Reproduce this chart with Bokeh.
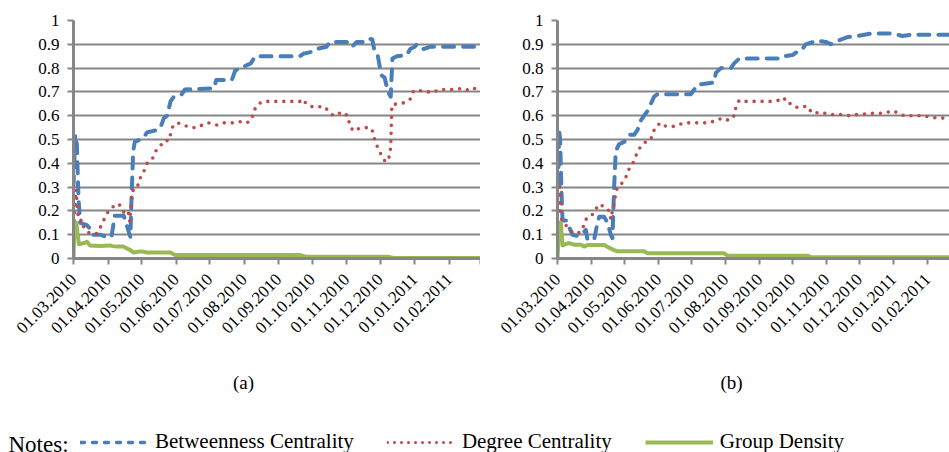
import math
from bokeh.plotting import figure
from bokeh.layouts import row, column
from bokeh.models import Range1d, FixedTicker, Legend, LegendItem, Label
from bokeh.embed import file_html
from bokeh.resources import INLINE

# ---------------- data ----------------
# x = days since 01.03.2010
month_days = [0, 31, 61, 92, 122, 153, 184, 214, 245, 275, 306, 337, 365]
month_labels = ["01.03.2010", "01.04.2010", "01.05.2010", "01.06.2010", "01.07.2010",
                "01.08.2010", "01.09.2010", "01.10.2010", "01.11.2010", "01.12.2010",
                "01.01.2011", "01.02.2011", ""]
y_ticks = [0, 0.1, 0.2, 0.3, 0.4, 0.5, 0.6, 0.7, 0.8, 0.9, 1]
y_labels = ["0", "0.1", "0.2", "0.3", "0.4", "0.5", "0.6", "0.7", "0.8", "0.9", "1"]

series_names = ["Betweenness Centrality", "Degree Centrality", "Group Density"]
panel_titles = ["(a)", "(b)"]

# panel (a)
a_betweenness = [(0, 0.30), (1.5, 0.52), (3, 0.48), (4.5, 0.25), (6, 0.15), (12, 0.14), (14, 0.13),
                 (17, 0.10), (24, 0.10), (30, 0.09), (34, 0.09), (37, 0.18), (45, 0.18), (47, 0.15),
                 (51, 0.09), (52, 0.25), (53.5, 0.45), (55, 0.49), (60, 0.50), (63, 0.51), (66, 0.53),
                 (75, 0.54), (78, 0.55), (81, 0.59), (84, 0.60), (87, 0.66), (90, 0.68), (97, 0.69),
                 (100, 0.71), (126, 0.715), (128, 0.75), (142, 0.75), (145, 0.79), (150, 0.80),
                 (159, 0.82), (163, 0.85), (203, 0.85), (206, 0.86), (215, 0.87), (218, 0.88),
                 (227, 0.89), (230, 0.91), (245, 0.91), (248, 0.89), (251, 0.895), (254, 0.91),
                 (260, 0.91), (264, 0.925), (268, 0.92), (270, 0.87), (273, 0.85), (276, 0.77),
                 (279, 0.76), (282, 0.70), (284.5, 0.68), (286, 0.84), (290, 0.85), (299, 0.855),
                 (302, 0.88), (306, 0.89), (308, 0.90), (314, 0.88), (320, 0.89), (365, 0.89)]
a_degree = [(0.5, 0.16), (2.5, 0.29), (3.5, 0.20), (5, 0.16), (8, 0.16), (9.5, 0.125), (15, 0.105),
            (21, 0.105), (24, 0.13), (27, 0.16), (30, 0.19), (36, 0.22), (40.5, 0.23), (43.5, 0.21),
            (46.5, 0.18), (49.5, 0.19), (50.5, 0.155), (51.5, 0.22), (52.5, 0.26), (54, 0.30),
            (58.5, 0.31), (60, 0.34), (63, 0.365), (66, 0.40), (70.5, 0.415), (73.5, 0.45),
            (77.5, 0.47), (81, 0.495), (85.5, 0.495), (87.5, 0.53), (89.5, 0.56), (93.5, 0.57),
            (99, 0.56), (106, 0.55), (111, 0.55), (115, 0.56), (121, 0.57), (129, 0.56), (135, 0.57),
            (144, 0.57), (150, 0.575), (155.5, 0.57), (160, 0.585), (161.5, 0.62), (166, 0.65),
            (170.5, 0.66), (203, 0.66), (205, 0.67), (209, 0.65), (212, 0.64), (217, 0.635),
            (224, 0.64), (229, 0.62), (233, 0.60), (238, 0.61), (242, 0.615), (246.5, 0.595),
            (247.5, 0.56), (251, 0.535), (255.5, 0.545), (263, 0.55), (267.5, 0.545), (269.5, 0.51),
            (271.5, 0.48), (273.5, 0.46), (276.5, 0.43), (280, 0.405), (283.5, 0.43), (284.5, 0.47),
            (285.5, 0.645), (290, 0.65), (297.5, 0.655), (302, 0.67), (305, 0.705), (311, 0.705),
            (318, 0.70), (324, 0.70), (327, 0.71), (333, 0.71), (341, 0.71), (350, 0.715),
            (355.5, 0.705), (360, 0.715), (365, 0.715)]
a_density = [(0, 0.0), (0.8, 0.15), (2.5, 0.15), (4.8, 0.06), (9.3, 0.065), (12.2, 0.07),
             (14.6, 0.055), (24.2, 0.053), (33, 0.055), (35, 0.052), (39, 0.05), (45, 0.05),
             (46.6, 0.045), (51, 0.035), (54, 0.025), (60, 0.03), (63, 0.028), (66, 0.025),
             (87, 0.025), (91, 0.015), (203, 0.015), (209, 0.007), (282.6, 0.007), (287, 0.002),
             (365, 0.002)]

# panel (b)
b_betweenness = [(0.5, 0.30), (1.5, 0.54), (2.4, 0.50), (3.5, 0.30), (4.6, 0.16), (7.6, 0.16),
                 (9.7, 0.14), (13.7, 0.10), (18.2, 0.095), (22.8, 0.105), (25.8, 0.12), (27.3, 0.08),
                 (33.4, 0.08), (36.4, 0.15), (38, 0.175), (42.5, 0.175), (45.5, 0.15), (48.6, 0.10),
                 (50, 0.085), (51.6, 0.30), (53, 0.45), (56, 0.48), (60.7, 0.49), (65.3, 0.52),
                 (69.8, 0.52), (72.9, 0.54), (75.9, 0.58), (78.9, 0.60), (82, 0.62), (85, 0.65),
                 (88, 0.68), (91, 0.69), (121.4, 0.69), (124.5, 0.71), (127.5, 0.73), (142.7, 0.74),
                 (144.2, 0.78), (148.8, 0.80), (157.9, 0.80), (160.9, 0.82), (165.5, 0.84),
                 (203.4, 0.84), (206.4, 0.85), (214, 0.855), (218.6, 0.87), (223, 0.88), (226, 0.90),
                 (236.8, 0.915), (244.4, 0.91), (249, 0.90), (258, 0.92), (264, 0.93), (273, 0.935),
                 (285, 0.945), (294.5, 0.945), (303.6, 0.945), (309.7, 0.94), (314, 0.935),
                 (321.8, 0.94), (357.3, 0.94)]
b_degree = [(1.8, 0.20), (2.1, 0.30), (3, 0.20), (3.9, 0.16), (7.6, 0.14), (12.1, 0.115),
            (18.2, 0.105), (22.8, 0.12), (24.3, 0.15), (27.3, 0.175), (31.9, 0.185), (34.9, 0.20),
            (36.4, 0.225), (42.5, 0.22), (47, 0.20), (48.6, 0.165), (50, 0.20), (51.6, 0.235),
            (53, 0.27), (54.6, 0.30), (57.7, 0.31), (62.2, 0.34), (63.8, 0.365), (69.8, 0.41),
            (72.9, 0.45), (77.4, 0.48), (80.4, 0.49), (85, 0.50), (86.5, 0.525), (89.6, 0.555),
            (94.1, 0.57), (98.7, 0.555), (106.3, 0.555), (112.3, 0.565), (116.9, 0.57),
            (138.1, 0.57), (144.2, 0.58), (150.3, 0.59), (156.3, 0.58), (160.9, 0.60),
            (162.4, 0.635), (165.5, 0.665), (171.5, 0.66), (194.3, 0.66), (201.9, 0.665),
            (206.4, 0.675), (208, 0.655), (212.5, 0.65), (217, 0.635), (223, 0.64), (229.2, 0.635),
            (230.7, 0.615), (233.8, 0.61), (239.8, 0.615), (247.4, 0.605), (258, 0.605),
            (265.6, 0.60), (273.2, 0.605), (286.9, 0.61), (294.5, 0.61), (306.6, 0.62),
            (311.2, 0.605), (317.2, 0.60), (332.4, 0.60), (338.5, 0.595), (346, 0.59), (357.3, 0.59)]
b_density = [(0, 0.0), (1.5, 0.15), (3, 0.15), (4.6, 0.055), (7.6, 0.06), (9.7, 0.065),
             (15.2, 0.058), (21.3, 0.058), (24.3, 0.05), (27.3, 0.057), (42.5, 0.057), (47, 0.045),
             (51.6, 0.035), (54.6, 0.03), (78.9, 0.03), (82, 0.022), (151.8, 0.022),
             (154.8, 0.012), (227.7, 0.012), (230.7, 0.005), (357.3, 0.005)]

# ---------------- styles ----------------
BLUE = "#4A7EBB"
RED = "#BE4B48"
GREEN = "#98B954"
GRID = "#868686"
FONT = "'Liberation Serif', 'Times New Roman', serif"


def style_series(p, data, kind):
    xs = [d for d, v in data]
    ys = [v for d, v in data]
    if kind == 0:
        return p.line(xs, ys, line_color=BLUE, line_width=4, line_dash="11 9",
                      line_cap="round", line_join="round")
    if kind == 1:
        return p.line(xs, ys, line_color=RED, line_width=3.6, line_dash="0 8",
                      line_cap="round", line_join="round")
    return p.line(xs, ys, line_color=GREEN, line_width=4, line_join="round")


def make_panel(width, height, bl, br, bt, bb, x_end, series):
    p = figure(width=width, height=height, x_range=Range1d(0, x_end), y_range=Range1d(0, 1),
               output_backend="svg", toolbar_location=None,
               min_border_left=bl, min_border_right=br, min_border_top=bt, min_border_bottom=bb)
    p.outline_line_color = None
    p.background_fill_color = "white"
    p.xgrid.grid_line_color = None
    p.ygrid.grid_line_color = GRID
    p.ygrid.grid_line_width = 2
    p.yaxis.ticker = FixedTicker(ticks=y_ticks)
    p.ygrid.ticker = FixedTicker(ticks=y_ticks)
    p.yaxis.major_label_overrides = {t: l for t, l in zip(y_ticks, y_labels)}
    p.xaxis.ticker = FixedTicker(ticks=month_days)
    p.xaxis.major_label_overrides = {t: l for t, l in zip(month_days, month_labels)}
    p.xaxis.major_label_orientation = math.pi / 4
    for ax in (p.xaxis, p.yaxis):
        ax.axis_line_color = GRID
        ax.axis_line_width = 3
        ax.major_tick_line_color = GRID
        ax.major_tick_line_width = 2
        ax.major_tick_out = 6
        ax.major_tick_in = 0
        ax.minor_tick_line_color = None
        ax.major_label_text_font = FONT
        ax.major_label_text_font_size = "17px"
        ax.major_label_text_color = "black"
    p.yaxis.major_label_standoff = 8
    p.xaxis.major_label_standoff = 12
    for k, data in enumerate(series):
        style_series(p, data, k)
    return p


pa = make_panel(480, 360, 73, 0, 20, 102, 365, [a_betweenness, a_degree, a_density])
pb = make_panel(469, 360, 77, 0, 20, 97, 357, [b_betweenness, b_degree, b_density])

# ---------------- captions and legend ----------------
pc = figure(width=949, height=92, x_range=Range1d(0, 949), y_range=Range1d(0, 92),
            output_backend="svg", toolbar_location=None, min_border=0,
            x_axis_location=None, y_axis_location=None)
pc.outline_line_color = None
pc.grid.visible = False

for txt, cx in zip(panel_titles, [243, 731]):
    pc.add_layout(Label(x=cx, y=70, text=txt, text_align="center", text_baseline="middle",
                        text_font=FONT, text_font_size="19px", text_color="black"))
pc.add_layout(Label(x=8, y=8, text="Notes:", text_align="left", text_baseline="alphabetic",
                    text_font=FONT, text_font_size="23px", text_color="black"))

nan = float("nan")
r1 = pc.line([nan], [nan], line_color=BLUE, line_width=3.5, line_dash="4 8", line_cap="round")
r2 = pc.line([nan], [nan], line_color=RED, line_width=3, line_dash="0 7", line_cap="round")
r3 = pc.line([nan], [nan], line_color=GREEN, line_width=4)
legend = Legend(items=[LegendItem(label=n, renderers=[r]) for n, r in zip(series_names, [r1, r2, r3])],
                orientation="horizontal", location=(80, -2), glyph_width=68, glyph_height=20,
                label_standoff=7, spacing=33, padding=0, margin=0,
                border_line_color=None, background_fill_alpha=0,
                label_text_font=FONT, label_text_font_size="21px", label_text_color="black")
pc.add_layout(legend)

layout = column(row(pa, pb), pc)
open("out.html", "w").write(file_html(layout, INLINE))
